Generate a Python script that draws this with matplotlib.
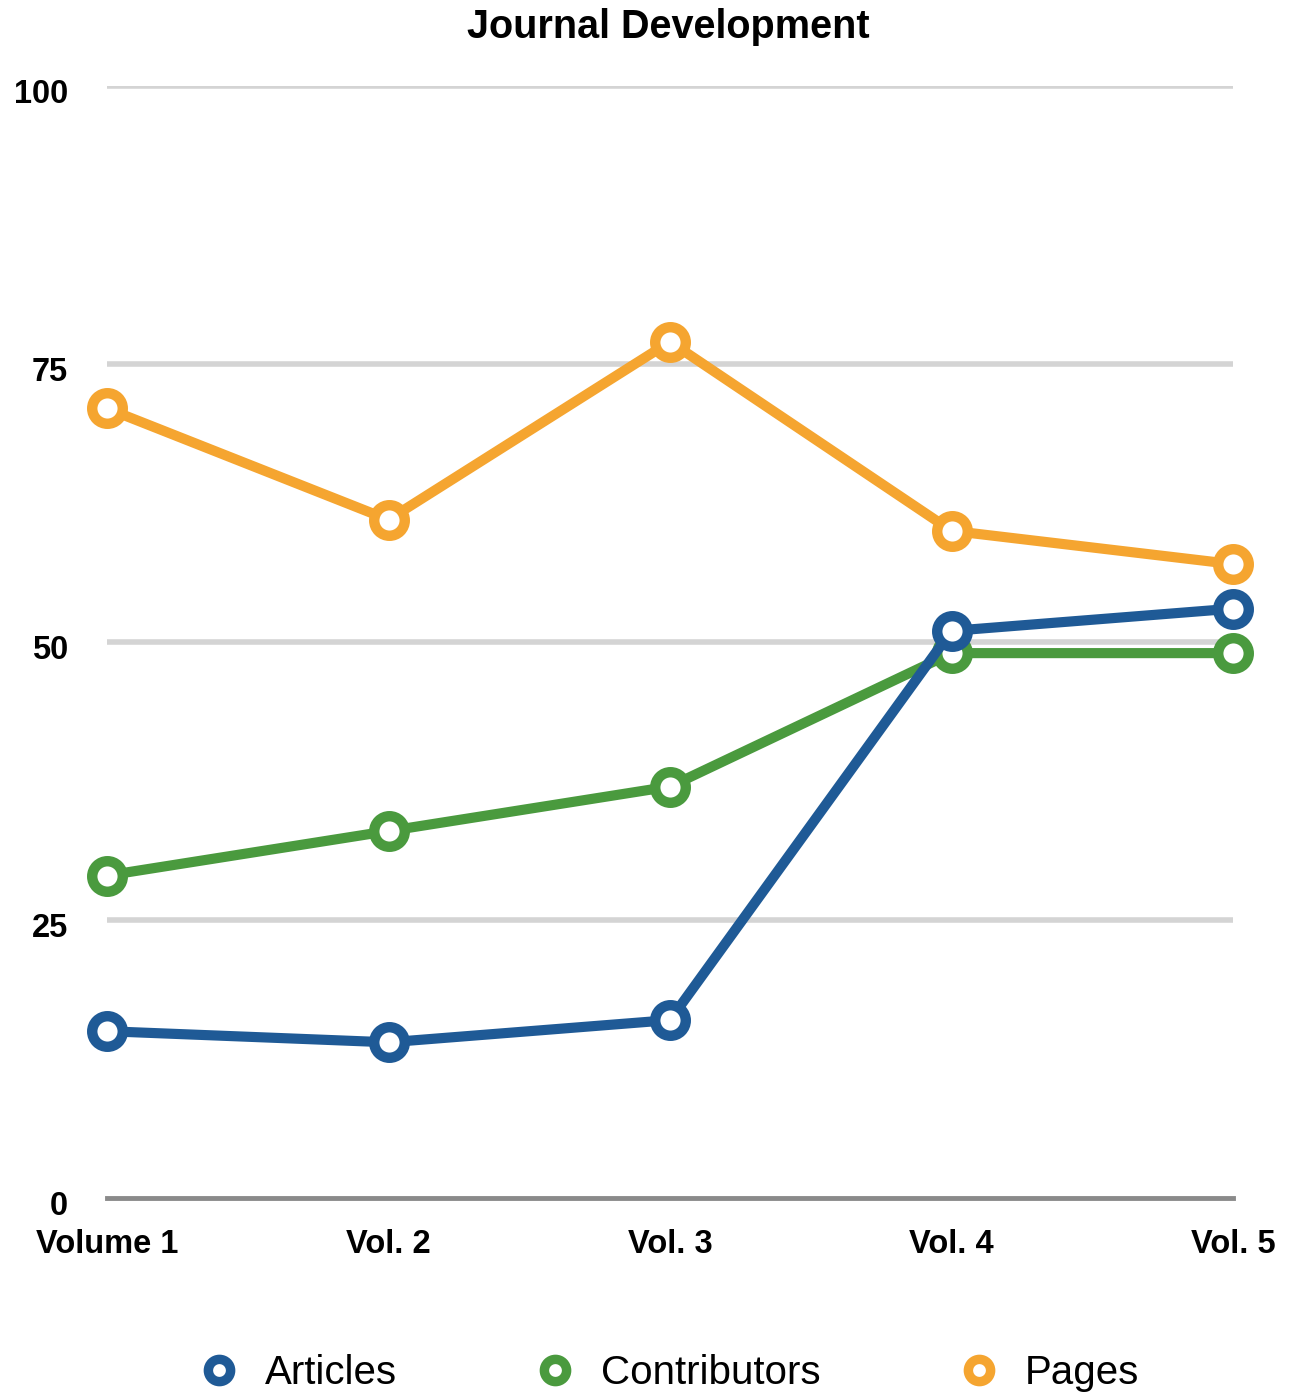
import matplotlib
matplotlib.use('Agg')
import matplotlib.pyplot as plt
import matplotlib.transforms as mtransforms
from matplotlib.lines import Line2D

plt.rcParams['font.family'] = ['Liberation Sans', 'DejaVu Sans']

# data
volumes = ['Volume 1', 'Vol. 2', 'Vol. 3', 'Vol. 4', 'Vol. 5']
articles = [15, 14, 16, 51, 53]
contributors = [29, 33, 37, 49, 49]
pages = [71, 61, 77, 60, 57]
y_ticks = [0, 25, 50, 75, 100]

c_art = '#1f5a96'
c_con = '#4a9a3e'
c_pag = '#f5a530'

fig = plt.figure(figsize=(12.92, 13.96), dpi=100)
ax = fig.add_axes([107 / 1292, 1 - 1198 / 1396, (1233 - 107) / 1292, (1198 - 86) / 1396])

x = list(range(len(volumes)))

# grid and baseline
for t in y_ticks[1:]:
    ax.axhline(t, color='#d4d4d4', lw=4, zorder=0)
ax.axhline(0, color='#8a8a8a', lw=3.5, zorder=1, clip_on=False)

style = dict(lw=7.3, marker='o', ms=22, mew=7.5, mfc='white', clip_on=False,
             solid_capstyle='round', solid_joinstyle='round')
ax.plot(x, pages, color=c_pag, zorder=3, **style)
ax.plot(x, contributors, color=c_con, zorder=4, **style)
ax.plot(x, articles, color=c_art, zorder=5, **style)

ax.set_xlim(0, 4)
ax.set_ylim(0, 100)
ax.set_xticks(x)
ax.set_xticklabels(volumes, fontsize=23.5, fontweight='bold')
ax.set_yticks(y_ticks)
ax.set_yticklabels([str(t) for t in y_ticks], fontsize=23.5, fontweight='bold')
ax.tick_params(axis='both', length=0)
ax.tick_params(axis='x', pad=22)
ax.tick_params(axis='y', pad=28)
shift = mtransforms.ScaledTranslation(0, -5 / 100, fig.dpi_scale_trans)
for lab in ax.get_yticklabels():
    lab.set_transform(lab.get_transform() + shift)
for s in ax.spines.values():
    s.set_visible(False)

fig.text(668 / 1292, 1 - 27 / 1396, 'Journal Development', ha='center', va='center',
         fontsize=28.5, fontweight='bold')

handles = [Line2D([], [], ls='none', marker='o', ms=16, mew=6.8, mfc='white', color=c)
           for c in (c_art, c_con, c_pag)]
ax.legend(handles, ['Articles', 'Contributors', 'Pages'], ncol=3, frameon=False,
          fontsize=29, loc='center left', bbox_to_anchor=(199 / 1292, 1 - 1373 / 1396),
          bbox_transform=fig.transFigure, borderpad=0, borderaxespad=0,
          handlelength=1.0, handletextpad=0.645, columnspacing=3.42)

fig.savefig('out.png', dpi=100)
